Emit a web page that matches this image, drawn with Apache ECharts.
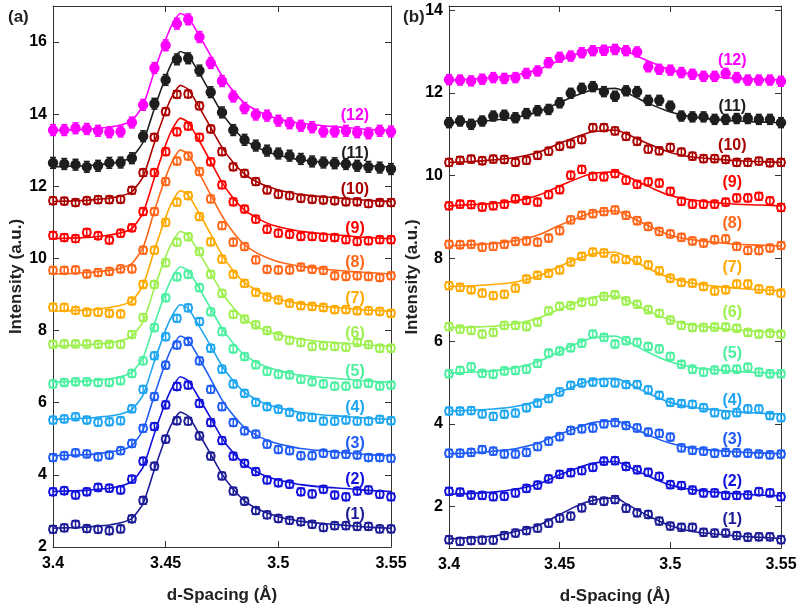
<!DOCTYPE html>
<html>
<head>
<meta charset="utf-8">
<script src="https://cdn.jsdelivr.net/npm/echarts@6/dist/echarts.min.js"></script>
<style>
  html, body { margin: 0; padding: 0; background: #fff; }
  #chart { width: 802px; height: 614px; }
</style>
</head>
<body>
<div id="chart"></div>
<script>
// d-spacing of the measured points (both panels)
const xData = [3.400, 3.405, 3.410, 3.415, 3.420, 3.425, 3.430, 3.435, 3.440, 3.445, 3.450,
  3.455, 3.460, 3.465, 3.470, 3.475, 3.480, 3.485, 3.490, 3.495, 3.500,
  3.505, 3.510, 3.515, 3.520, 3.525, 3.530, 3.535, 3.540, 3.545, 3.550];

// x positions where the fitted curves were read
const fitXA = [3.400, 3.405, 3.410, 3.415, 3.420, 3.425, 3.430, 3.435, 3.440, 3.445, 3.450, 3.453, 3.4565,
  3.460, 3.465, 3.470, 3.475, 3.480, 3.485, 3.490, 3.495, 3.500, 3.505, 3.510, 3.520, 3.530, 3.540, 3.550];
const fitXB = [3.40, 3.41, 3.42, 3.43, 3.44, 3.45, 3.46, 3.465, 3.47, 3.475, 3.48, 3.49, 3.50, 3.51, 3.52, 3.53, 3.54, 3.55];

const curveNames = ["(1)", "(2)", "(3)", "(4)", "(5)", "(6)", "(7)", "(8)", "(9)", "(10)", "(11)", "(12)"];

// panel (a) measured points
const dataA1 = [2.49, 2.53, 2.63, 2.51, 2.49, 2.45, 2.50, 2.78, 3.29, 4.24, 4.99, 5.50, 5.49, 5.08, 4.52, 3.97, 3.55, 3.27, 3.01, 2.89, 2.79, 2.74, 2.70, 2.63, 2.54, 2.59, 2.59, 2.57, 2.57, 2.50, 2.50];
const dataA2 = [3.53, 3.56, 3.44, 3.53, 3.65, 3.63, 3.58, 3.88, 4.38, 5.34, 5.94, 6.45, 6.49, 5.98, 5.45, 4.95, 4.52, 4.32, 4.09, 3.86, 3.78, 3.74, 3.53, 3.47, 3.60, 3.44, 3.39, 3.55, 3.58, 3.46, 3.39];
const dataA3 = [4.48, 4.53, 4.61, 4.58, 4.50, 4.55, 4.67, 4.87, 5.29, 6.17, 7.04, 7.60, 7.70, 7.16, 6.37, 5.89, 5.45, 5.22, 5.13, 4.85, 4.70, 4.67, 4.53, 4.53, 4.60, 4.57, 4.57, 4.55, 4.48, 4.48, 4.46];
const dataA4 = [5.52, 5.55, 5.61, 5.52, 5.46, 5.47, 5.50, 5.83, 6.37, 7.30, 7.83, 8.34, 8.63, 8.25, 7.51, 6.93, 6.52, 6.26, 6.01, 5.89, 5.82, 5.73, 5.61, 5.59, 5.49, 5.49, 5.52, 5.49, 5.49, 5.54, 5.50];
const dataA5 = [6.52, 6.56, 6.58, 6.58, 6.56, 6.56, 6.61, 6.81, 7.16, 8.08, 8.91, 9.49, 9.56, 9.19, 8.52, 7.97, 7.49, 7.28, 7.05, 6.87, 6.79, 6.77, 6.65, 6.58, 6.52, 6.46, 6.46, 6.52, 6.54, 6.46, 6.49];
const dataA6 = [7.62, 7.63, 7.63, 7.63, 7.62, 7.62, 7.62, 7.89, 8.36, 9.28, 9.88, 10.45, 10.60, 10.19, 9.56, 9.03, 8.45, 8.32, 8.16, 8.00, 7.85, 7.73, 7.67, 7.56, 7.58, 7.56, 7.54, 7.67, 7.61, 7.51, 7.51];
const dataA7 = [8.65, 8.64, 8.56, 8.51, 8.51, 8.48, 8.46, 8.82, 9.28, 10.23, 11.00, 11.56, 11.74, 11.16, 10.46, 9.98, 9.56, 9.31, 9.06, 8.93, 8.85, 8.76, 8.69, 8.67, 8.64, 8.58, 8.58, 8.55, 8.55, 8.53, 8.48];
const dataA8 = [9.67, 9.67, 9.68, 9.57, 9.61, 9.64, 9.71, 9.71, 10.23, 11.30, 12.13, 12.70, 12.84, 12.41, 11.65, 10.91, 10.45, 10.33, 9.96, 9.70, 9.68, 9.68, 9.76, 9.70, 9.67, 9.52, 9.50, 9.52, 9.50, 9.47, 9.52];
const dataA9 = [10.64, 10.58, 10.55, 10.72, 10.63, 10.51, 10.70, 10.85, 11.30, 12.38, 12.96, 13.51, 13.67, 13.36, 12.68, 12.04, 11.57, 11.37, 11.09, 10.81, 10.70, 10.67, 10.61, 10.61, 10.59, 10.58, 10.52, 10.47, 10.49, 10.52, 10.52];
const dataA10 = [11.60, 11.59, 11.55, 11.60, 11.63, 11.63, 11.64, 11.89, 12.38, 13.36, 14.07, 14.55, 14.56, 14.23, 13.59, 12.96, 12.54, 12.36, 12.13, 11.90, 11.78, 11.74, 11.67, 11.64, 11.62, 11.60, 11.57, 11.57, 11.52, 11.55, 11.55];
const dataA11 = [12.65, 12.62, 12.60, 12.54, 12.57, 12.65, 12.66, 12.78, 13.39, 14.29, 14.95, 15.52, 15.55, 15.21, 14.61, 14.05, 13.56, 13.29, 13.13, 12.99, 12.91, 12.85, 12.76, 12.69, 12.66, 12.64, 12.62, 12.57, 12.54, 12.52, 12.48];
const dataA12 = [13.56, 13.56, 13.61, 13.59, 13.54, 13.50, 13.52, 13.77, 14.26, 15.28, 15.91, 16.51, 16.63, 16.14, 15.42, 14.92, 14.49, 14.17, 13.99, 13.96, 13.82, 13.75, 13.68, 13.64, 13.52, 13.52, 13.54, 13.50, 13.47, 13.54, 13.52];

// panel (a) fitted curves
const fitA1 = [2.52, 2.53, 2.54, 2.55, 2.58, 2.61, 2.67, 2.79, 3.21, 4.15, 5.03, 5.45, 5.74, 5.63, 5.12, 4.57, 4.02, 3.60, 3.28, 3.08, 2.94, 2.84, 2.77, 2.71, 2.65, 2.60, 2.55, 2.52];
const fitA2 = [3.54, 3.55, 3.56, 3.57, 3.60, 3.63, 3.69, 3.81, 4.22, 5.15, 6.02, 6.43, 6.72, 6.61, 6.11, 5.57, 5.02, 4.61, 4.29, 4.10, 3.95, 3.86, 3.79, 3.73, 3.66, 3.62, 3.57, 3.54];
const fitA3 = [4.53, 4.54, 4.55, 4.56, 4.59, 4.63, 4.68, 4.81, 5.25, 6.21, 7.12, 7.55, 7.85, 7.73, 7.22, 6.65, 6.08, 5.65, 5.31, 5.11, 4.96, 4.86, 4.79, 4.73, 4.66, 4.61, 4.56, 4.53];
const fitA4 = [5.54, 5.55, 5.56, 5.57, 5.60, 5.63, 5.69, 5.81, 6.22, 7.15, 8.02, 8.43, 8.72, 8.61, 8.11, 7.57, 7.02, 6.61, 6.29, 6.10, 5.95, 5.86, 5.79, 5.73, 5.66, 5.62, 5.57, 5.54];
const fitA5 = [6.57, 6.58, 6.59, 6.60, 6.63, 6.66, 6.72, 6.84, 7.26, 8.19, 9.06, 9.48, 9.77, 9.66, 9.16, 8.61, 8.06, 7.65, 7.32, 7.13, 6.99, 6.89, 6.82, 6.76, 6.70, 6.65, 6.60, 6.57];
const fitA6 = [7.57, 7.58, 7.59, 7.60, 7.63, 7.66, 7.72, 7.84, 8.25, 9.18, 10.05, 10.46, 10.75, 10.64, 10.14, 9.60, 9.05, 8.64, 8.32, 8.13, 7.98, 7.89, 7.82, 7.76, 7.69, 7.65, 7.60, 7.57];
const fitA7 = [8.54, 8.55, 8.56, 8.57, 8.60, 8.64, 8.70, 8.82, 9.26, 10.23, 11.14, 11.58, 11.88, 11.76, 11.24, 10.67, 10.10, 9.66, 9.33, 9.13, 8.97, 8.87, 8.80, 8.74, 8.67, 8.62, 8.57, 8.54];
const fitA8 = [9.57, 9.58, 9.59, 9.61, 9.63, 9.67, 9.73, 9.86, 10.31, 11.32, 12.25, 12.70, 13.01, 12.89, 12.35, 11.76, 11.18, 10.73, 10.38, 10.17, 10.02, 9.91, 9.84, 9.78, 9.71, 9.65, 9.61, 9.57];
const fitA9 = [10.55, 10.56, 10.57, 10.58, 10.61, 10.65, 10.71, 10.83, 11.27, 12.24, 13.15, 13.59, 13.89, 13.77, 13.25, 12.68, 12.11, 11.67, 11.34, 11.14, 10.98, 10.88, 10.81, 10.75, 10.68, 10.63, 10.58, 10.55];
const fitA10 = [11.58, 11.59, 11.60, 11.61, 11.64, 11.67, 11.73, 11.85, 12.27, 13.21, 14.09, 14.51, 14.80, 14.69, 14.18, 13.63, 13.08, 12.66, 12.34, 12.14, 12.00, 11.90, 11.83, 11.77, 11.71, 11.66, 11.61, 11.58];
const fitA11 = [12.54, 12.55, 12.56, 12.57, 12.60, 12.63, 12.69, 12.81, 13.23, 14.16, 15.03, 15.45, 15.74, 15.63, 15.13, 14.58, 14.03, 13.62, 13.29, 13.10, 12.96, 12.86, 12.79, 12.73, 12.67, 12.62, 12.57, 12.54];
const fitA12 = [13.55, 13.56, 13.57, 13.58, 13.61, 13.64, 13.70, 13.82, 14.25, 15.19, 16.07, 16.50, 16.79, 16.68, 16.17, 15.62, 15.06, 14.64, 14.31, 14.12, 13.97, 13.87, 13.80, 13.75, 13.68, 13.63, 13.58, 13.55];

// panel (b) measured points
const dataB1 = [1.20, 1.16, 1.18, 1.19, 1.19, 1.30, 1.36, 1.42, 1.48, 1.60, 1.72, 1.77, 1.97, 2.15, 2.13, 2.17, 1.96, 1.85, 1.81, 1.65, 1.53, 1.50, 1.50, 1.38, 1.36, 1.36, 1.30, 1.26, 1.27, 1.27, 1.20];
const dataB2 = [2.37, 2.35, 2.28, 2.27, 2.24, 2.25, 2.33, 2.44, 2.52, 2.67, 2.78, 2.82, 2.87, 2.95, 3.10, 3.11, 2.97, 2.89, 2.83, 2.73, 2.53, 2.51, 2.40, 2.33, 2.33, 2.27, 2.27, 2.28, 2.36, 2.33, 2.24];
const dataB3 = [3.29, 3.29, 3.31, 3.38, 3.34, 3.27, 3.27, 3.31, 3.45, 3.58, 3.69, 3.84, 3.88, 3.90, 4.00, 4.03, 3.96, 3.90, 3.80, 3.77, 3.68, 3.42, 3.36, 3.34, 3.29, 3.31, 3.30, 3.29, 3.27, 3.25, 3.27];
const dataB4 = [4.31, 4.31, 4.32, 4.24, 4.18, 4.23, 4.26, 4.39, 4.50, 4.61, 4.77, 4.93, 4.99, 5.01, 5.00, 4.99, 4.95, 4.95, 4.82, 4.69, 4.52, 4.49, 4.47, 4.39, 4.27, 4.22, 4.27, 4.36, 4.36, 4.20, 4.15];
const dataB5 = [5.21, 5.29, 5.38, 5.22, 5.20, 5.28, 5.29, 5.32, 5.46, 5.71, 5.76, 5.84, 5.95, 6.17, 6.09, 5.93, 6.01, 5.97, 5.87, 5.81, 5.63, 5.44, 5.32, 5.25, 5.30, 5.32, 5.32, 5.37, 5.25, 5.21, 5.21];
const dataB6 = [6.35, 6.29, 6.26, 6.17, 6.21, 6.38, 6.38, 6.35, 6.46, 6.73, 6.84, 6.86, 6.94, 6.96, 7.08, 7.12, 6.97, 6.89, 6.76, 6.67, 6.51, 6.38, 6.33, 6.33, 6.34, 6.34, 6.31, 6.21, 6.17, 6.19, 6.17];
const dataB7 = [7.34, 7.30, 7.24, 7.16, 7.10, 7.13, 7.28, 7.50, 7.59, 7.64, 7.72, 7.91, 8.05, 8.15, 8.13, 7.99, 7.97, 7.95, 7.84, 7.70, 7.52, 7.42, 7.40, 7.32, 7.21, 7.24, 7.38, 7.38, 7.26, 7.22, 7.16];
const dataB8 = [8.34, 8.33, 8.34, 8.27, 8.29, 8.34, 8.41, 8.42, 8.39, 8.49, 8.67, 8.93, 9.04, 9.08, 9.13, 9.17, 9.04, 8.91, 8.77, 8.65, 8.59, 8.51, 8.42, 8.37, 8.45, 8.47, 8.29, 8.19, 8.19, 8.25, 8.31];
const dataB9 = [9.27, 9.31, 9.30, 9.24, 9.27, 9.31, 9.44, 9.40, 9.36, 9.54, 9.66, 10.01, 10.15, 9.98, 9.97, 10.05, 9.89, 9.79, 9.85, 9.82, 9.62, 9.38, 9.31, 9.31, 9.31, 9.36, 9.46, 9.46, 9.50, 9.39, 9.23];
const dataB10 = [10.32, 10.37, 10.40, 10.36, 10.40, 10.39, 10.32, 10.37, 10.49, 10.59, 10.71, 10.77, 10.87, 11.16, 11.16, 11.08, 10.95, 10.83, 10.64, 10.60, 10.68, 10.57, 10.47, 10.41, 10.41, 10.39, 10.32, 10.32, 10.35, 10.31, 10.32];
const dataB11 = [11.28, 11.32, 11.24, 11.32, 11.44, 11.46, 11.40, 11.50, 11.57, 11.60, 11.76, 11.99, 12.11, 12.15, 12.03, 11.92, 12.05, 12.03, 11.82, 11.82, 11.68, 11.44, 11.42, 11.42, 11.36, 11.36, 11.38, 11.38, 11.36, 11.36, 11.28];
const dataB12 = [12.32, 12.31, 12.29, 12.33, 12.37, 12.35, 12.37, 12.47, 12.53, 12.73, 12.86, 12.89, 12.97, 13.02, 13.03, 13.05, 13.02, 12.99, 12.63, 12.57, 12.55, 12.49, 12.45, 12.40, 12.40, 12.47, 12.37, 12.31, 12.31, 12.31, 12.28];

// panel (b) fitted curves
const fitB1 = [1.22, 1.25, 1.29, 1.40, 1.54, 1.81, 2.07, 2.15, 2.20, 2.21, 2.07, 1.78, 1.54, 1.40, 1.34, 1.29, 1.26, 1.23];
const fitB2 = [2.30, 2.32, 2.35, 2.42, 2.54, 2.77, 2.97, 3.05, 3.08, 3.09, 2.99, 2.74, 2.52, 2.41, 2.35, 2.31, 2.28, 2.26];
const fitB3 = [3.28, 3.30, 3.34, 3.40, 3.53, 3.75, 3.95, 4.03, 4.06, 4.07, 3.98, 3.73, 3.53, 3.41, 3.36, 3.32, 3.30, 3.28];
const fitB4 = [4.31, 4.33, 4.36, 4.42, 4.55, 4.77, 4.98, 5.06, 5.09, 5.10, 5.00, 4.74, 4.52, 4.40, 4.34, 4.29, 4.26, 4.24];
const fitB5 = [5.22, 5.25, 5.28, 5.36, 5.50, 5.75, 5.99, 6.08, 6.11, 6.12, 6.01, 5.73, 5.50, 5.37, 5.31, 5.27, 5.24, 5.22];
const fitB6 = [6.32, 6.34, 6.36, 6.42, 6.55, 6.77, 6.98, 7.06, 7.09, 7.09, 6.99, 6.73, 6.51, 6.39, 6.32, 6.27, 6.24, 6.22];
const fitB7 = [7.32, 7.34, 7.37, 7.43, 7.57, 7.81, 8.03, 8.11, 8.14, 8.15, 8.04, 7.76, 7.53, 7.40, 7.33, 7.28, 7.24, 7.22];
const fitB8 = [8.30, 8.33, 8.36, 8.43, 8.56, 8.80, 9.02, 9.11, 9.14, 9.15, 9.05, 8.79, 8.56, 8.45, 8.39, 8.34, 8.32, 8.30];
const fitB9 = [9.27, 9.30, 9.33, 9.39, 9.52, 9.75, 9.97, 10.05, 10.08, 10.09, 9.99, 9.74, 9.52, 9.41, 9.35, 9.31, 9.29, 9.27];
const fitB10 = [10.32, 10.34, 10.38, 10.44, 10.56, 10.78, 10.98, 11.06, 11.09, 11.10, 11.01, 10.77, 10.56, 10.45, 10.40, 10.36, 10.34, 10.32];
const fitB11 = [11.28, 11.31, 11.34, 11.41, 11.54, 11.77, 11.99, 12.07, 12.10, 12.11, 12.01, 11.75, 11.54, 11.42, 11.36, 11.32, 11.30, 11.28];
const fitB12 = [12.31, 12.33, 12.37, 12.43, 12.56, 12.78, 12.99, 13.07, 13.10, 13.11, 13.01, 12.77, 12.56, 12.45, 12.39, 12.35, 12.33, 12.31];

// error bar half-heights per curve
const errA = [0.1, 0.1, 0.1, 0.1, 0.1, 0.1, 0.1, 0.1, 0.1, 0.1, 0.15, 0.15];
const errB = [0.09, 0.09, 0.09, 0.09, 0.09, 0.09, 0.09, 0.09, 0.09, 0.09, 0.12, 0.12];

// where the "(n)" tags sit, in data units
const labelYA = [2.89, 3.88, 4.87, 5.86, 6.85, 7.91, 8.90, 9.88, 10.84, 11.91, 12.92, 13.96];
const labelYB = [1.69, 2.61, 3.61, 4.56, 5.69, 6.69, 7.78, 8.85, 9.82, 10.73, 11.68, 12.77];

const ticksA = [2, 4, 6, 8, 10, 12, 14, 16];
const ticksB = [2, 4, 6, 8, 10, 12, 14];
const ticksX = [3.4, 3.45, 3.5, 3.55];

const dataA = [dataA1, dataA2, dataA3, dataA4, dataA5, dataA6, dataA7, dataA8, dataA9, dataA10, dataA11, dataA12];
const fitA = [fitA1, fitA2, fitA3, fitA4, fitA5, fitA6, fitA7, fitA8, fitA9, fitA10, fitA11, fitA12];
const dataB = [dataB1, dataB2, dataB3, dataB4, dataB5, dataB6, dataB7, dataB8, dataB9, dataB10, dataB11, dataB12];
const fitB = [fitB1, fitB2, fitB3, fitB4, fitB5, fitB6, fitB7, fitB8, fitB9, fitB10, fitB11, fitB12];

const colors = ["#1c1c96", "#1212dc", "#1f5cf5", "#1fa6f0", "#4cf0a0", "#9ef050",
  "#ffaa00", "#ff6619", "#ff0000", "#aa0000", "#1e1e1e", "#ff00ff"];

const FONT = "'Liberation Sans', Arial, sans-serif";
const AXIS_COLOR = "#333";

const chart = echarts.init(document.getElementById("chart"), null, { renderer: "canvas" });

function xAxisPair(gridIndex) {
    return [
        {
            type: "value", gridIndex, min: 3.4, max: 3.55, position: "bottom",
            axisLine: { show: true, lineStyle: { color: AXIS_COLOR, width: 1 } },
            axisTick: { inside: true, length: 6, customValues: ticksX, lineStyle: { color: AXIS_COLOR } },
            axisLabel: {
                customValues: ticksX, color: "#000", fontFamily: FONT, fontWeight: "bold",
                fontSize: 16, margin: 9,
            },
            splitLine: { show: false },
            name: "d-Spacing (Å)", nameLocation: "middle", nameGap: 40,
            nameTextStyle: { color: "#222", fontFamily: FONT, fontWeight: "bold", fontSize: 17 },
        },
        {
            type: "value", gridIndex, min: 3.4, max: 3.55, position: "top",
            axisLine: { show: true, lineStyle: { color: AXIS_COLOR, width: 1 } },
            axisTick: { inside: true, length: 6, customValues: ticksX, lineStyle: { color: AXIS_COLOR } },
            axisLabel: { show: false },
            splitLine: { show: false },
        },
    ];
}

function yAxisPair(gridIndex, min, max, ticks, nameGap) {
    return [
        {
            type: "value", gridIndex, min, max, position: "left",
            axisLine: { show: true, lineStyle: { color: AXIS_COLOR, width: 1 } },
            axisTick: { inside: true, length: 6, customValues: ticks, lineStyle: { color: AXIS_COLOR } },
            axisLabel: {
                customValues: ticks, color: "#000", fontFamily: FONT, fontWeight: "bold",
                fontSize: 16, margin: 6,
            },
            splitLine: { show: false },
            name: "Intensity (a.u.)", nameLocation: "middle", nameGap,
            nameTextStyle: { color: "#222", fontFamily: FONT, fontWeight: "bold", fontSize: 17 },
        },
        {
            type: "value", gridIndex, min, max, position: "right",
            axisLine: { show: true, lineStyle: { color: AXIS_COLOR, width: 1 } },
            axisTick: { inside: true, length: 6, customValues: ticks, lineStyle: { color: AXIS_COLOR } },
            axisLabel: { show: false },
            splitLine: { show: false },
        },
    ];
}

function pointSeries(values, err, color, filled, xi, yi) {
    return {
        type: "custom",
        xAxisIndex: xi,
        yAxisIndex: yi,
        encode: { x: 0, y: 1 },
        z: 3,
        data: values.map((y, i) => [xData[i], y, err]),
        renderItem: (params, api) => {
            const x = api.value(0);
            const y = api.value(1);
            const e = api.value(2);
            const c = api.coord([x, y]);
            const top = api.coord([x, y + e])[1];
            const bot = api.coord([x, y - e])[1];
            const cap = filled ? 3 : 4;
            const stroke = { stroke: color, lineWidth: 1.5 };
            return {
                type: "group",
                children: [
                    { type: "line", shape: { x1: c[0], y1: top, x2: c[0], y2: bot }, style: stroke },
                    { type: "line", shape: { x1: c[0] - cap, y1: top, x2: c[0] + cap, y2: top }, style: stroke },
                    { type: "line", shape: { x1: c[0] - cap, y1: bot, x2: c[0] + cap, y2: bot }, style: stroke },
                    {
                        type: "circle",
                        shape: { cx: c[0], cy: c[1], r: filled ? 4.2 : 3.9 },
                        style: { fill: filled ? color : "none", stroke: color, lineWidth: 2 },
                    },
                ],
            };
        },
    };
}

function fitSeries(xs, ys, color, xi, yi, smooth) {
    return {
        type: "line",
        xAxisIndex: xi,
        yAxisIndex: yi,
        data: xs.map((x, i) => [x, ys[i]]),
        showSymbol: false,
        smooth,
        lineStyle: { color, width: 1.6 },
        z: 2,
    };
}

function labelSeries(x, ys, xi, yi) {
    return {
        type: "scatter",
        xAxisIndex: xi,
        yAxisIndex: yi,
        symbolSize: 0,
        itemStyle: { opacity: 1 },
        z: 5,
        data: ys.map((y, k) => ({
            value: [x, y],
            name: curveNames[k],
            label: { color: colors[k] },
        })),
        label: {
            show: true,
            position: "inside",
            formatter: (p) => p.name,
            fontFamily: FONT,
            fontWeight: "bold",
            fontSize: 16,
        },
    };
}

const series = [];
for (let k = 0; k < 12; k++) {
    const filled = k >= 10;
    series.push(fitSeries(fitXA, fitA[k], colors[k], 0, 0, 0.2));
    series.push(pointSeries(dataA[k], errA[k], colors[k], filled, 0, 0));
    series.push(fitSeries(fitXB, fitB[k], colors[k], 2, 2, 0.4));
    series.push(pointSeries(dataB[k], errB[k], colors[k], filled, 2, 2));
}
series.push(labelSeries(3.534, labelYA, 0, 0));
series.push(labelSeries(3.528, labelYB, 2, 2));

const option = {
    backgroundColor: "#fff",
    animation: false,
    title: [
        { text: "(a)", left: 3, top: 4, textStyle: { fontFamily: FONT, fontWeight: "bold", fontSize: 17, color: "#222" } },
        { text: "(b)", left: 398, top: 4, textStyle: { fontFamily: FONT, fontWeight: "bold", fontSize: 17, color: "#222" } },
    ],
    grid: [
        { left: 53, top: 6, width: 338, height: 541, show: false },
        { left: 449, top: 6, width: 332, height: 542, show: false },
    ],
    xAxis: [...xAxisPair(0), ...xAxisPair(1)],
    yAxis: [...yAxisPair(0, 2, 17, ticksA, 28), ...yAxisPair(1, 1, 14.1, ticksB, 28)],
    series,
};

chart.setOption(option);
</script>
</body>
</html>
